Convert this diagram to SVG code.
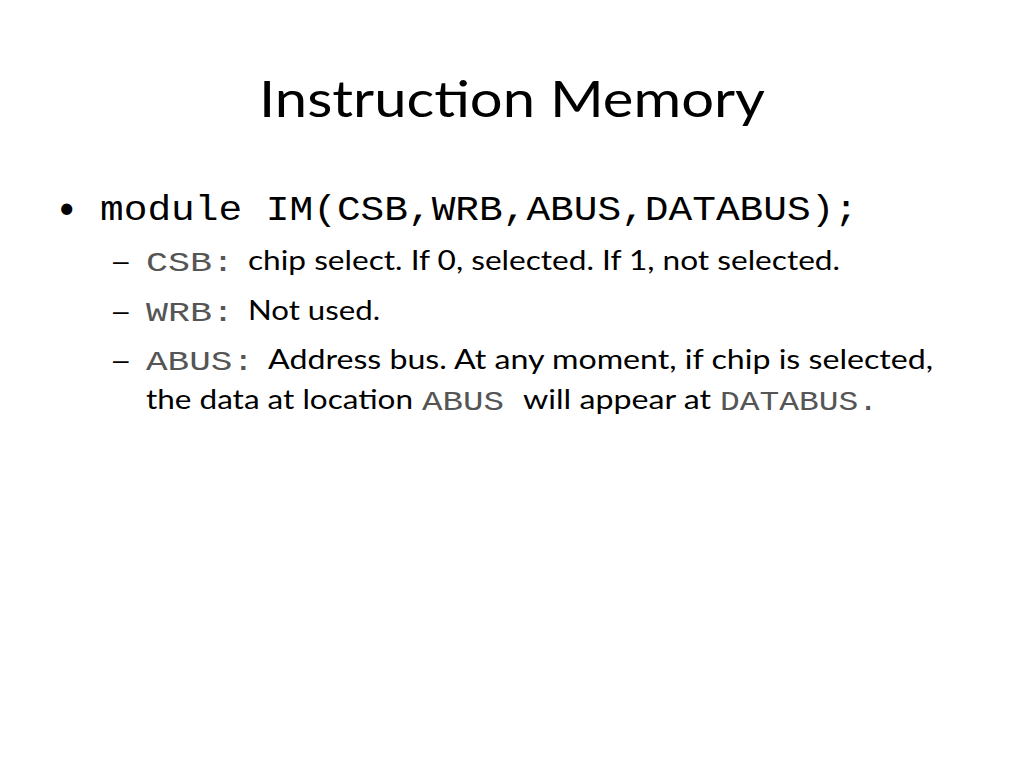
<svg xmlns="http://www.w3.org/2000/svg" width="1024" height="768" viewBox="0 0 1024 768">
<style>
.t{font-family:Lato,"Open Sans","Liberation Sans",sans-serif;fill:#000}
.d{font-family:"Liberation Sans",sans-serif;fill:#000}
.m{font-family:"Liberation Mono","Courier New",monospace;fill:#000}
.g{fill:#555}
</style>
<rect width="1024" height="768" fill="#fff"/>
<g id="title"><text class="t" x="512" y="117" font-size="50" text-anchor="middle" textLength="506" lengthAdjust="spacingAndGlyphs">Instruction Memory</text></g>
<g id="bullet1">
<text class="t" x="58" y="218" font-size="30">•</text>
<text class="m" x="100" y="220" font-size="35" textLength="758" lengthAdjust="spacingAndGlyphs">module IM(CSB,WRB,ABUS,DATABUS);</text>
</g>
<g id="sub1">
<text class="d" x="113" y="270" font-size="28">–</text>
<text class="m g" x="146" y="271" font-size="28" textLength="88" lengthAdjust="spacingAndGlyphs">CSB:</text>
<text class="t" x="248" y="270" font-size="27" textLength="592" lengthAdjust="spacingAndGlyphs">chip select. If 0, selected. If 1, not selected.</text>
</g>
<g id="sub2">
<text class="d" x="113" y="320" font-size="28">–</text>
<text class="m g" x="146" y="321" font-size="28" textLength="88" lengthAdjust="spacingAndGlyphs">WRB:</text>
<text class="t" x="248" y="320" font-size="27" textLength="132" lengthAdjust="spacingAndGlyphs">Not used.</text>
</g>
<g id="sub3">
<text class="d" x="113" y="369" font-size="28">–</text>
<text class="m g" x="146" y="370" font-size="28" textLength="108" lengthAdjust="spacingAndGlyphs">ABUS:</text>
<text class="t" x="268" y="369" font-size="27" textLength="665" lengthAdjust="spacingAndGlyphs">Address bus.  At any moment, if chip is selected,</text>
<text class="t" x="146" y="409" font-size="27" textLength="267" lengthAdjust="spacingAndGlyphs">the data at location</text>
<text class="m g" x="422" y="410" font-size="28" textLength="82" lengthAdjust="spacingAndGlyphs">ABUS</text>
<text class="t" x="523" y="409" font-size="27" textLength="188" lengthAdjust="spacingAndGlyphs">will appear at</text>
<text class="m g" x="720" y="410" font-size="28" textLength="158" lengthAdjust="spacingAndGlyphs">DATABUS.</text>
</g>
</svg>
